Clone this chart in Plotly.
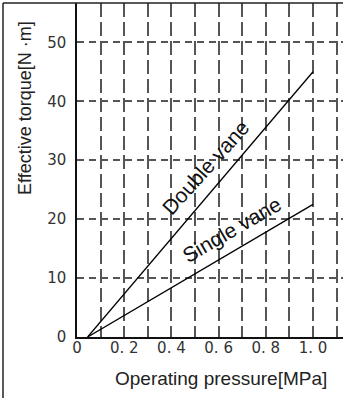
import plotly.graph_objects as go

# Data
pressure = [0.045, 1.0]
double_vane = [0, 45]
single_vane = [0, 22.5]

x_tick_vals = [0, 0.2, 0.4, 0.6, 0.8, 1.0]
x_tick_text = ["0", "0. 2", "0. 4", "0. 6", "0. 8", "1. 0"]
y_tick_vals = [0, 10, 20, 30, 40, 50]
y_tick_text = ["0", "10", "20", "30", "40", "50"]

W, H = 343, 398
L, R, T, B = 77, 0, 3, 61
pw, ph = W - L - R, H - T - B

font = "Liberation Sans, Arial, sans-serif"
tick_font = "DejaVu Sans, sans-serif"

fig = go.Figure()
fig.add_trace(go.Scatter(x=pressure, y=double_vane, mode="lines",
                         line=dict(color="black", width=1.3), showlegend=False,
                         hoverinfo="skip"))
fig.add_trace(go.Scatter(x=pressure, y=single_vane, mode="lines",
                         line=dict(color="black", width=1.3), showlegend=False,
                         hoverinfo="skip"))

fig.update_layout(
    width=W, height=H,
    margin=dict(l=L, r=R, t=T, b=B, pad=0),
    paper_bgcolor="white", plot_bgcolor="white",
    font=dict(family=font, color="#222"),
    xaxis=dict(range=[0, 1.127], tickvals=x_tick_vals, ticktext=x_tick_text,
               showgrid=True, gridcolor="#555", gridwidth=1.5, griddash="14px,5px",
               minor=dict(tick0=0, dtick=0.1, showgrid=True, gridcolor="#555",
                          gridwidth=1.5, griddash="14px,5px"),
               showline=True, linecolor="#111", linewidth=1.5,
               ticks="", zeroline=False,
               tickfont=dict(family=tick_font, size=15, color="#333"),
               ticklabelstandoff=-4, fixedrange=True),
    yaxis=dict(range=[0, 56.67], tickvals=y_tick_vals, ticktext=y_tick_text,
               showgrid=True, gridcolor="#555", gridwidth=1.5, griddash="7px,5px",
               showline=True, linecolor="#111", linewidth=1.5,
               ticks="", zeroline=False,
               tickfont=dict(family=tick_font, size=15, color="#333"),
               ticklabelstandoff=6, fixedrange=True),
)

# Curve labels
fig.add_annotation(x=0.545, y=28.7, text="Double vane", textangle=-48,
                   showarrow=False, font=dict(size=21, color="#111"))
fig.add_annotation(x=0.656, y=18.2, text="Single vane", textangle=-30,
                   showarrow=False, font=dict(size=21, color="#111"))

# Axis titles
fig.add_annotation(xref="paper", yref="paper", x=(25 - L) / pw, y=(H - B - 108) / ph,
                   xanchor="center", yanchor="middle",
                   text="Effective torque[N ·m]", textangle=-90, showarrow=False,
                   font=dict(size=18, color="#222"))
fig.add_annotation(xref="paper", yref="paper", x=(221 - L) / pw, y=(H - B - 378) / ph,
                   xanchor="center", yanchor="middle",
                   text="Operating pressure[MPa]", showarrow=False,
                   font=dict(size=19, color="#222"))

# Outer frame (left and top edges)
fx0 = (3 - L) / pw
fy0 = (H - B - H) / ph
fig.add_shape(type="line", xref="paper", yref="paper", x0=fx0, x1=fx0, y0=fy0, y1=1,
              line=dict(color="#222", width=1.5))
fig.add_shape(type="line", xref="paper", yref="paper", x0=fx0, x1=(W - L) / pw, y0=1, y1=1,
              line=dict(color="#222", width=1.5))

fig.write_html("out.html", config={"displayModeBar": False},
               post_script="document.body.style.margin='0';")
